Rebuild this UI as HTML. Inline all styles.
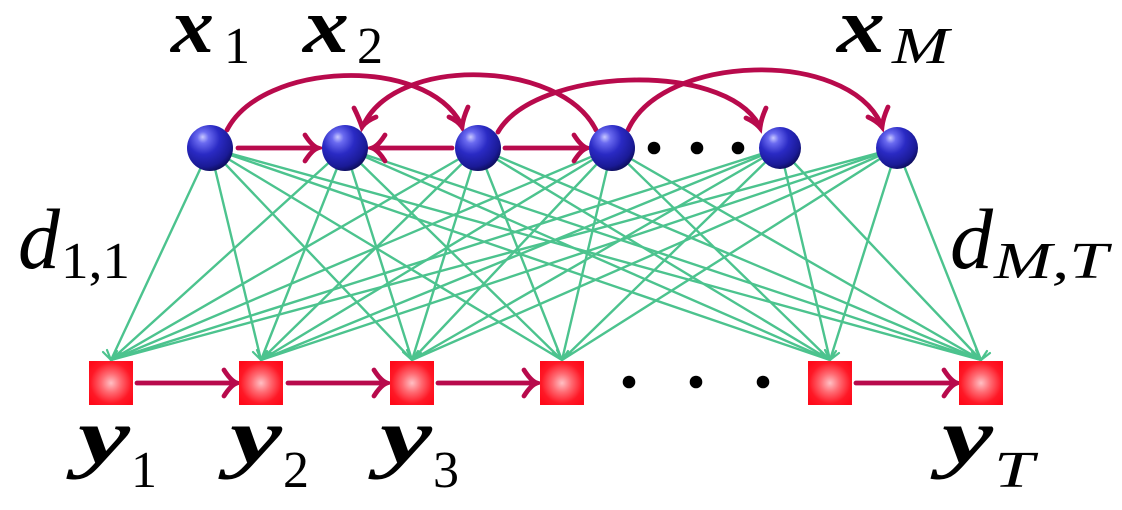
<!DOCTYPE html>
<html>
<head>
<meta charset="utf-8">
<style>
  html,body{margin:0;padding:0;background:#fff;}
  svg{display:block;}
  svg text{font-family:"Liberation Serif","Times New Roman",Times,"DejaVu Serif",serif;}
</style>
</head>
<body>
<svg width="1122" height="510" viewBox="0 0 1122 510" xmlns="http://www.w3.org/2000/svg">
  <defs>
    <radialGradient id="ball" cx="0.38" cy="0.32" r="0.7" fx="0.34" fy="0.26">
      <stop offset="0" stop-color="#c8c8ff"/>
      <stop offset="0.18" stop-color="#6a6af0"/>
      <stop offset="0.5" stop-color="#2a2ac4"/>
      <stop offset="0.85" stop-color="#1a1a96"/>
      <stop offset="1" stop-color="#0e0e60"/>
    </radialGradient>
    <radialGradient id="box" cx="0.5" cy="0.5" r="0.62">
      <stop offset="0" stop-color="#ffc0c4"/>
      <stop offset="0.35" stop-color="#ff6a72"/>
      <stop offset="0.75" stop-color="#ff1826"/>
      <stop offset="1" stop-color="#ff0a1a"/>
    </radialGradient>
  </defs>

  <!-- green edges -->
  <g stroke="#4cc38e" stroke-width="2.4" fill="none" stroke-linecap="round">
    <line x1="210" y1="148" x2="111" y2="360"/>
    <line x1="210" y1="148" x2="261" y2="360"/>
    <line x1="210" y1="148" x2="412" y2="360"/>
    <line x1="210" y1="148" x2="562" y2="360"/>
    <line x1="210" y1="148" x2="830" y2="360"/>
    <line x1="210" y1="148" x2="981" y2="360"/>
    <line x1="345" y1="148" x2="111" y2="360"/>
    <line x1="345" y1="148" x2="261" y2="360"/>
    <line x1="345" y1="148" x2="412" y2="360"/>
    <line x1="345" y1="148" x2="562" y2="360"/>
    <line x1="345" y1="148" x2="830" y2="360"/>
    <line x1="345" y1="148" x2="981" y2="360"/>
    <line x1="478" y1="148" x2="111" y2="360"/>
    <line x1="478" y1="148" x2="261" y2="360"/>
    <line x1="478" y1="148" x2="412" y2="360"/>
    <line x1="478" y1="148" x2="562" y2="360"/>
    <line x1="478" y1="148" x2="830" y2="360"/>
    <line x1="478" y1="148" x2="981" y2="360"/>
    <line x1="612" y1="148" x2="111" y2="360"/>
    <line x1="612" y1="148" x2="261" y2="360"/>
    <line x1="612" y1="148" x2="412" y2="360"/>
    <line x1="612" y1="148" x2="562" y2="360"/>
    <line x1="612" y1="148" x2="830" y2="360"/>
    <line x1="612" y1="148" x2="981" y2="360"/>
    <line x1="780" y1="148" x2="111" y2="360"/>
    <line x1="780" y1="148" x2="261" y2="360"/>
    <line x1="780" y1="148" x2="412" y2="360"/>
    <line x1="780" y1="148" x2="562" y2="360"/>
    <line x1="780" y1="148" x2="830" y2="360"/>
    <line x1="780" y1="148" x2="981" y2="360"/>
    <line x1="897" y1="148" x2="111" y2="360"/>
    <line x1="897" y1="148" x2="261" y2="360"/>
    <line x1="897" y1="148" x2="412" y2="360"/>
    <line x1="897" y1="148" x2="562" y2="360"/>
    <line x1="897" y1="148" x2="830" y2="360"/>
    <line x1="897" y1="148" x2="981" y2="360"/>
  </g>
  <!-- green arrowhead fans at square tops -->
  <g stroke="#4cc38e" stroke-width="2.2" fill="none" stroke-linecap="round">
    <path d="M 103 352 L 111 360 L 121 353 M 107 350 L 111 360 L 117 351"/>
    <path d="M 253 352 L 261 360 L 271 353 M 257 350 L 261 360 L 267 351"/>
    <path d="M 403 352 L 412 360 L 421 353 M 407 350 L 412 360 L 418 351"/>
    <path d="M 553 352 L 562 360 L 571 353 M 557 350 L 562 360 L 568 351"/>
    <path d="M 821 352 L 830 360 L 839 353 M 825 350 L 830 360 L 836 351"/>
    <path d="M 972 352 L 981 360 L 990 353 M 976 350 L 981 360 L 987 351"/>
  </g>

  <!-- crimson arrows -->
  <g stroke="#b80a4c" stroke-width="4.8" fill="none" stroke-linecap="round">
    <path d="M 227 130 C 262 62, 425 55, 461 124"/>
    <path d="M 596 130 C 561 60, 398 55, 364 124"/>
    <path d="M 498 132 C 535 68, 722 60, 759 125"/>
    <path d="M 628 130 C 662 54, 846 48, 881 124"/>
    <line x1="238" y1="148" x2="317" y2="148"/>
    <line x1="452" y1="148" x2="373" y2="148"/>
    <line x1="505" y1="148" x2="585" y2="148"/>
    <line x1="137" y1="383" x2="235" y2="383"/>
    <line x1="288" y1="383" x2="385" y2="383"/>
    <line x1="438" y1="383" x2="535" y2="383"/>
    <line x1="856" y1="383" x2="955" y2="383"/>
    <!-- arrowheads: right-pointing -->
    <path d="M 305 135 Q 312 146 318 148 Q 312 150 305 161"/>
    <path d="M 574 135 Q 581 146 587 148 Q 581 150 574 161"/>
    <path d="M 224 370 Q 231 381 237 383 Q 231 385 224 396"/>
    <path d="M 374 370 Q 381 381 387 383 Q 381 385 374 396"/>
    <path d="M 524 370 Q 531 381 537 383 Q 531 385 524 396"/>
    <path d="M 944 370 Q 951 381 957 383 Q 951 385 944 396"/>
    <!-- left-pointing -->
    <path d="M 385 135 Q 378 146 372 148 Q 378 150 385 161"/>
    <!-- arc heads (pointing down) -->
    <path d="M 449 117 Q 458 121 462 127 Q 463 118 468 107"/>
    <path d="M 354 108 Q 359 118 362 127 Q 366 121 376 117"/>
    <path d="M 746 118 Q 755 122 760 128 Q 761 119 766 108"/>
    <path d="M 868 117 Q 877 121 882 127 Q 883 118 888 107"/>
  </g>

  <!-- top nodes -->
  <g fill="url(#ball)">
    <circle cx="210" cy="148" r="23"/>
    <circle cx="345" cy="148" r="23"/>
    <circle cx="478" cy="148" r="23"/>
    <circle cx="612" cy="148" r="23"/>
    <circle cx="780" cy="148" r="21"/>
    <circle cx="897" cy="148" r="21"/>
  </g>
  <g fill="#000">
    <circle cx="654" cy="148" r="6.3"/>
    <circle cx="697" cy="148" r="6.3"/>
    <circle cx="738" cy="148" r="6.3"/>
    <circle cx="629" cy="382" r="6.3"/>
    <circle cx="696" cy="382" r="6.3"/>
    <circle cx="763" cy="382" r="6.3"/>
  </g>

  <!-- bottom nodes -->
  <g fill="url(#box)">
    <rect x="89" y="361" width="44" height="44"/>
    <rect x="239" y="361" width="44" height="44"/>
    <rect x="390" y="361" width="44" height="44"/>
    <rect x="540" y="361" width="44" height="44"/>
    <rect x="808" y="361" width="44" height="44"/>
    <rect x="959" y="361" width="44" height="44"/>
  </g>

  <g fill="#000">
    <!-- labels: x -->
    <text style="font-weight:bold;font-style:italic;font-size:78px" x="171" y="52" textLength="43" lengthAdjust="spacingAndGlyphs">x</text>
    <text style="font-size:52px" x="224" y="63">1</text>
    <text style="font-weight:bold;font-style:italic;font-size:78px" x="303" y="52" textLength="46" lengthAdjust="spacingAndGlyphs">x</text>
    <text style="font-size:52px" x="357" y="63">2</text>
    <text style="font-weight:bold;font-style:italic;font-size:78px" x="837" y="52" textLength="48" lengthAdjust="spacingAndGlyphs">x</text>
    <text style="font-style:italic;font-size:52px" x="892" y="63" textLength="57" lengthAdjust="spacingAndGlyphs">M</text>

    <!-- labels: y -->
    <text style="font-weight:bold;font-style:italic;font-size:78px" x="78" y="463" textLength="52" lengthAdjust="spacingAndGlyphs">y</text>
    <text style="font-size:52px" x="131" y="487">1</text>
    <text style="font-weight:bold;font-style:italic;font-size:78px" x="230" y="463" textLength="52" lengthAdjust="spacingAndGlyphs">y</text>
    <text style="font-size:52px" x="283" y="487">2</text>
    <text style="font-weight:bold;font-style:italic;font-size:78px" x="380" y="463" textLength="52" lengthAdjust="spacingAndGlyphs">y</text>
    <text style="font-size:52px" x="433" y="487">3</text>
    <text style="font-weight:bold;font-style:italic;font-size:78px" x="942" y="463" textLength="51" lengthAdjust="spacingAndGlyphs">y</text>
    <text style="font-style:italic;font-size:52px" x="994" y="487" textLength="40" lengthAdjust="spacingAndGlyphs">T</text>

    <!-- labels: d -->
    <text style="font-style:italic;font-size:86px" x="18" y="268" textLength="42" lengthAdjust="spacingAndGlyphs">d</text>
    <text style="font-size:52px" x="61" y="278" textLength="69" lengthAdjust="spacingAndGlyphs">1,1</text>
    <text style="font-style:italic;font-size:86px" x="950" y="268" textLength="43" lengthAdjust="spacingAndGlyphs">d</text>
    <text style="font-style:italic;font-size:52px" x="994" y="278" textLength="114" lengthAdjust="spacingAndGlyphs">M,T</text>
  </g>
</svg>
</body>
</html>
